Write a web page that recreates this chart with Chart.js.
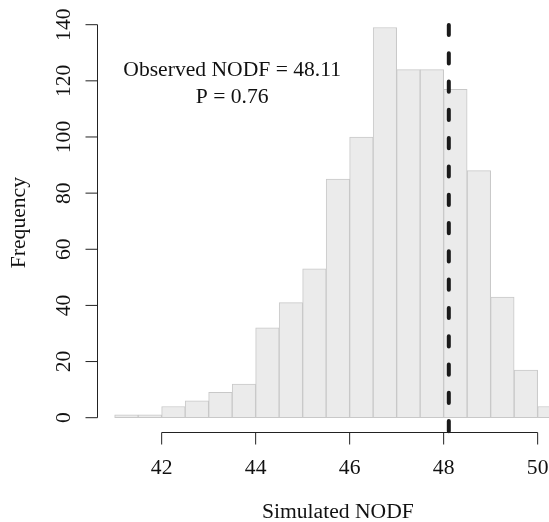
<!DOCTYPE html>
<html>
<head>
<meta charset="utf-8">
<script src="https://cdn.jsdelivr.net/npm/chart.js@4/dist/chart.umd.min.js"></script>
<style>
  html, body { margin: 0; padding: 0; overflow: hidden; background: #fff; }
  #wrap { width: 549px; height: 522px; overflow: hidden; }
  canvas { display: block; }
</style>
</head>
<body>
<div id="wrap"><canvas id="hist" width="600" height="522"></canvas></div>
<script>
// Histogram of simulated NODF values (bin edges and counts per bin)
const breaks = [41.0, 41.5, 42.0, 42.5, 43.0, 43.5, 44.0, 44.5, 45.0, 45.5,
                46.0, 46.5, 47.0, 47.5, 48.0, 48.5, 49.0, 49.5, 50.0, 50.5];
const counts = [1, 1, 4, 6, 9, 12, 32, 41, 53, 85,
                100, 139, 124, 124, 117, 88, 43, 17, 4];
const xTicks = [42, 44, 46, 48, 50];
const yTicks = [0, 20, 40, 60, 80, 100, 120, 140];
const observedNODF = 48.11;
const pValue = 0.76;
const xTitle = 'Simulated NODF';
const yTitle = 'Frequency';

// Bar centres from the bin edges
const bars = counts.map((c, i) => ({ x: (breaks[i] + breaks[i + 1]) / 2, y: c }));

// Axis ranges padded by 4% like base R graphics
const xSpan = breaks[breaks.length - 1] - breaks[0];
const xMin = breaks[0] - 0.04 * xSpan;
const xMax = breaks[breaks.length - 1] + 0.04 * xSpan;
const yMaxCount = Math.max(...counts);
const yMin = -0.04 * yMaxCount;
const yMax = yMaxCount * 1.04;

const FONT = '21.6px "Liberation Serif", "Times New Roman", serif';
const INK = '#111';

const baseAxes = {
  id: 'baseAxes',
  afterDatasetsDraw(chart) {
    const { ctx, chartArea: a, scales: { x, y } } = chart;
    ctx.save();

    // observed value as a thick dashed vertical line
    const xo = x.getPixelForValue(observedNODF);
    ctx.strokeStyle = '#1a1a1a';
    ctx.lineWidth = 4;
    ctx.lineCap = 'round';
    ctx.setLineDash([10.2, 18.1]);
    ctx.beginPath();
    ctx.moveTo(xo, a.bottom - 2);
    ctx.lineTo(xo, a.top);
    ctx.stroke();
    ctx.setLineDash([]);
    ctx.lineCap = 'butt';

    ctx.strokeStyle = '#222';
    ctx.lineWidth = 1;
    ctx.fillStyle = INK;
    ctx.font = FONT;

    // y axis
    const ax = Math.round(a.left) + 0.5;
    ctx.beginPath();
    ctx.moveTo(ax, y.getPixelForValue(yTicks[0]));
    ctx.lineTo(ax, y.getPixelForValue(yTicks[yTicks.length - 1]));
    yTicks.forEach(t => {
      const py = y.getPixelForValue(t);
      ctx.moveTo(ax, py);
      ctx.lineTo(ax - 12, py);
    });
    ctx.stroke();
    ctx.textAlign = 'center';
    ctx.textBaseline = 'alphabetic';
    yTicks.forEach(t => {
      ctx.save();
      ctx.translate(70, y.getPixelForValue(t));
      ctx.rotate(-Math.PI / 2);
      ctx.fillText(String(t), 0, 0);
      ctx.restore();
    });

    // x axis
    const ay = Math.round(a.bottom) - 0.5;
    ctx.beginPath();
    ctx.moveTo(x.getPixelForValue(xTicks[0]), ay);
    ctx.lineTo(x.getPixelForValue(xTicks[xTicks.length - 1]), ay);
    xTicks.forEach(t => {
      const px = x.getPixelForValue(t);
      ctx.moveTo(px, ay);
      ctx.lineTo(px, ay + 12);
    });
    ctx.stroke();
    xTicks.forEach(t => ctx.fillText(String(t), x.getPixelForValue(t), 474));

    // axis titles
    ctx.fillText(xTitle, (a.left + a.right) / 2, 518);
    ctx.save();
    ctx.translate(25, (a.top + a.bottom) / 2);
    ctx.rotate(-Math.PI / 2);
    ctx.fillText(yTitle, 0, 0);
    ctx.restore();

    // annotation
    const tx = x.getPixelForValue(43.5);
    const ty = y.getPixelForValue(117);
    ctx.fillText('Observed NODF = ' + observedNODF.toFixed(2), tx, ty - 13.3);
    ctx.fillText('P = ' + pValue.toFixed(2), tx, ty + 13.3);

    ctx.restore();
  }
};

new Chart(document.getElementById('hist'), {
  type: 'bar',
  data: {
    datasets: [{
      data: bars,
      backgroundColor: '#ebebeb',
      borderColor: '#c8c8c8',
      borderWidth: 1,
      borderSkipped: false,
      barPercentage: 1,
      categoryPercentage: 1
    }]
  },
  options: {
    responsive: false,
    animation: false,
    devicePixelRatio: 1,
    layout: { padding: { left: 96.8, right: 21, top: 11.9, bottom: 88.7 } },
    plugins: { legend: { display: false }, tooltip: { enabled: false } },
    scales: {
      x: { type: 'linear', min: xMin, max: xMax, offset: false, display: false },
      y: { type: 'linear', min: yMin, max: yMax, display: false }
    }
  },
  plugins: [baseAxes]
});
</script>
</body>
</html>
